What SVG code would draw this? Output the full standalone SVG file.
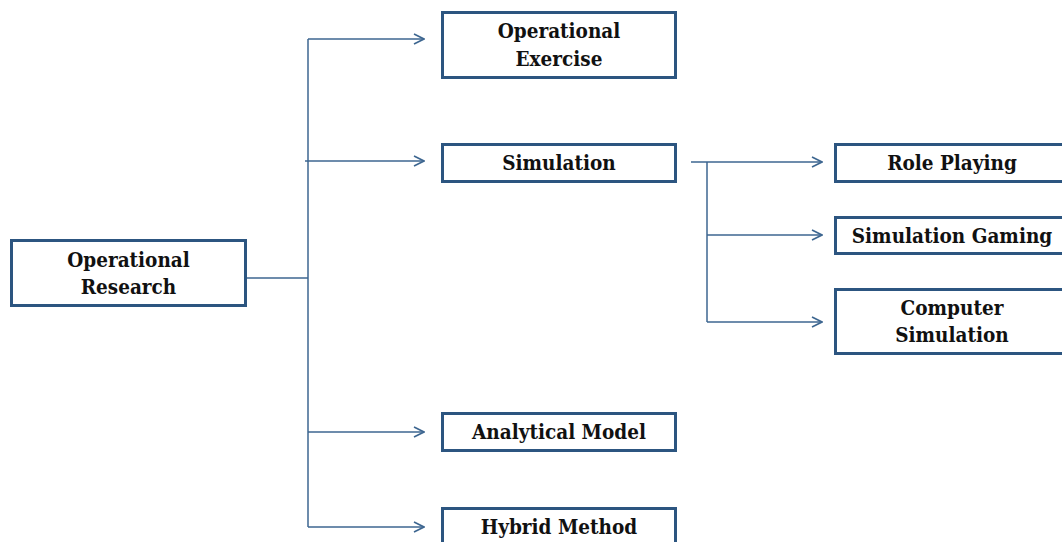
<svg xmlns="http://www.w3.org/2000/svg" width="1062" height="542" viewBox="0 0 1062 542">
  <defs>
    <style>
      .box { fill: #ffffff; stroke: #2c5580; stroke-width: 3; }
      .lbl { font-family: "DejaVu Serif", "Liberation Serif", serif; font-stretch: condensed; font-weight: bold; font-size: 20.5px; fill: #111111; text-anchor: middle; }
      .wire { fill: none; stroke: #3d6690; stroke-width: 1.5; }
    </style>
    <marker id="chev" viewBox="0 0 12 12" refX="11" refY="6" markerWidth="12" markerHeight="12" markerUnits="userSpaceOnUse" orient="auto">
      <path d="M1,1 L11,6 L1,11" fill="none" stroke="#3d6690" stroke-width="1.6"/>
    </marker>
  </defs>

  <rect width="1062" height="542" fill="#ffffff"/>

  <!-- connectors -->
  <g id="connectors">
    <path class="wire" d="M246,278 H308"/>
    <path class="wire" d="M308,39 V527"/>
    <path class="wire" d="M308,39 H424" marker-end="url(#chev)"/>
    <path class="wire" d="M305,161 H424" marker-end="url(#chev)"/>
    <path class="wire" d="M308,432 H424" marker-end="url(#chev)"/>
    <path class="wire" d="M308,527 H424" marker-end="url(#chev)"/>
    <path class="wire" d="M691,162 H822" marker-end="url(#chev)"/>
    <path class="wire" d="M707,162 V322"/>
    <path class="wire" d="M707,235 H822" marker-end="url(#chev)"/>
    <path class="wire" d="M707,322 H822" marker-end="url(#chev)"/>
  </g>

  <g id="operational-research">
    <rect class="box" x="11.5" y="240.5" width="234" height="65"/>
    <text class="lbl" x="128.5" y="267">Operational</text>
    <text class="lbl" x="128.5" y="294">Research</text>
  </g>

  <g id="operational-exercise">
    <rect class="box" x="442.5" y="12.5" width="233" height="65"/>
    <text class="lbl" x="559" y="38">Operational</text>
    <text class="lbl" x="559" y="66">Exercise</text>
  </g>

  <g id="simulation">
    <rect class="box" x="442.5" y="144.5" width="233" height="37"/>
    <text class="lbl" x="559" y="170">Simulation</text>
  </g>

  <g id="analytical-model">
    <rect class="box" x="442.5" y="413.5" width="233" height="37"/>
    <text class="lbl" x="559" y="439">Analytical Model</text>
  </g>

  <g id="hybrid-method">
    <rect class="box" x="442.5" y="508.5" width="233" height="37"/>
    <text class="lbl" x="559" y="534">Hybrid Method</text>
  </g>

  <g id="role-playing">
    <rect class="box" x="835.5" y="144.5" width="230" height="37"/>
    <text class="lbl" x="952" y="170">Role Playing</text>
  </g>

  <g id="simulation-gaming">
    <rect class="box" x="835.5" y="217.5" width="230" height="36"/>
    <text class="lbl" x="952" y="243">Simulation Gaming</text>
  </g>

  <g id="computer-simulation">
    <rect class="box" x="835.5" y="289.5" width="230" height="64"/>
    <text class="lbl" x="952" y="315">Computer</text>
    <text class="lbl" x="952" y="342">Simulation</text>
  </g>
</svg>
